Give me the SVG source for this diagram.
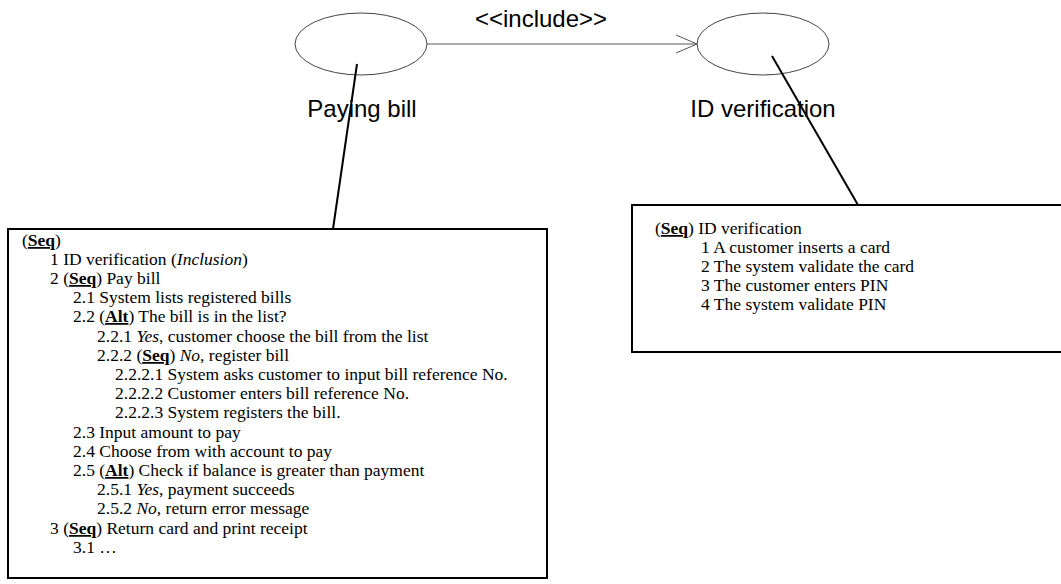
<svg xmlns="http://www.w3.org/2000/svg" width="1061" height="584" viewBox="0 0 1061 584">
  <defs>
    <marker id="open-arrow" markerWidth="24" markerHeight="20" refX="22" refY="10" orient="auto" markerUnits="userSpaceOnUse">
      <path d="M1,1 L22,10 L1,19" fill="none" stroke="#555" stroke-width="1"/>
    </marker>
  </defs>
  <style>
    .usecase { fill: #fff; stroke: #444; stroke-width: 1; }
    .uc-label { font-family: "Liberation Sans", Arial, sans-serif; font-size: 24px; fill: #000; }
    .box { fill: #fff; stroke: #000; stroke-width: 2; }
    .body { font-family: "Liberation Serif", "Times New Roman", serif; font-size: 17.5px; fill: #000; }
    .kw { font-weight: bold; text-decoration: underline; }
    .it { font-style: italic; }
    .link { stroke: #000; stroke-width: 2; fill: none; }
    .dep { stroke: #555; stroke-width: 1; fill: none; }
  </style>
  <rect width="1061" height="584" fill="#fff"/>

  <!-- use case: Paying bill -->
  <g id="uc-paying-bill">
    <ellipse class="usecase" cx="361" cy="44" rx="66" ry="31"/>
    <text class="uc-label" x="362" y="117" text-anchor="middle">Paying bill</text>
  </g>

  <!-- use case: ID verification -->
  <g id="uc-id-verification">
    <ellipse class="usecase" cx="763" cy="44" rx="66" ry="31"/>
    <text class="uc-label" x="763" y="117" text-anchor="middle">ID verification</text>
  </g>

  <!-- scenario of Paying bill -->
  <g id="note-paying-bill">
    <rect class="box" x="8" y="229" width="539" height="349"/>
    <text class="body" x="22" y="246">(<tspan class="kw">Seq</tspan>)</text>
    <text class="body" x="50" y="265">1 ID verification (<tspan class="it">Inclusion</tspan>)</text>
    <text class="body" x="50" y="284">2 (<tspan class="kw">Seq</tspan>) Pay bill</text>
    <text class="body" x="73" y="303">2.1 System lists registered bills</text>
    <text class="body" x="73" y="322">2.2 (<tspan class="kw">Alt</tspan>) The bill is in the list?</text>
    <text class="body" x="97" y="342">2.2.1 <tspan class="it">Yes</tspan>, customer choose the bill from the list</text>
    <text class="body" x="97" y="361">2.2.2 (<tspan class="kw">Seq</tspan>) <tspan class="it">No</tspan>, register bill</text>
    <text class="body" x="115" y="380">2.2.2.1 System asks customer to input bill reference No.</text>
    <text class="body" x="115" y="399">2.2.2.2 Customer enters bill reference No.</text>
    <text class="body" x="115" y="418">2.2.2.3 System registers the bill.</text>
    <text class="body" x="73" y="438">2.3 Input amount to pay</text>
    <text class="body" x="73" y="457">2.4 Choose from with account to pay</text>
    <text class="body" x="73" y="476">2.5 (<tspan class="kw">Alt</tspan>) Check if balance is greater than payment</text>
    <text class="body" x="97" y="495">2.5.1 <tspan class="it">Yes</tspan>, payment succeeds</text>
    <text class="body" x="97" y="514">2.5.2 <tspan class="it">No,</tspan> return error message</text>
    <text class="body" x="50" y="534">3 (<tspan class="kw">Seq</tspan>) Return card and print receipt</text>
    <text class="body" x="73" y="553">3.1 …</text>
  </g>

  <!-- scenario of ID verification -->
  <g id="note-id-verification">
    <rect class="box" x="632" y="205" width="440" height="147"/>
    <text class="body" x="655" y="234">(<tspan class="kw">Seq</tspan>) ID verification</text>
    <text class="body" x="701" y="253">1 A customer inserts a card</text>
    <text class="body" x="701" y="272">2 The system validate the card</text>
    <text class="body" x="701" y="291">3 The customer enters PIN</text>
    <text class="body" x="701" y="310">4 The system validate PIN</text>
  </g>

  <!-- connectors -->
  <g id="connectors">
    <line class="dep" x1="427" y1="44" x2="697" y2="44" marker-end="url(#open-arrow)"/>
    <text class="uc-label" x="541" y="27" text-anchor="middle">&lt;&lt;include&gt;&gt;</text>
    <line class="link" x1="357" y1="64" x2="333" y2="229"/>
    <line class="link" x1="772" y1="56" x2="858" y2="205"/>
  </g>
</svg>
